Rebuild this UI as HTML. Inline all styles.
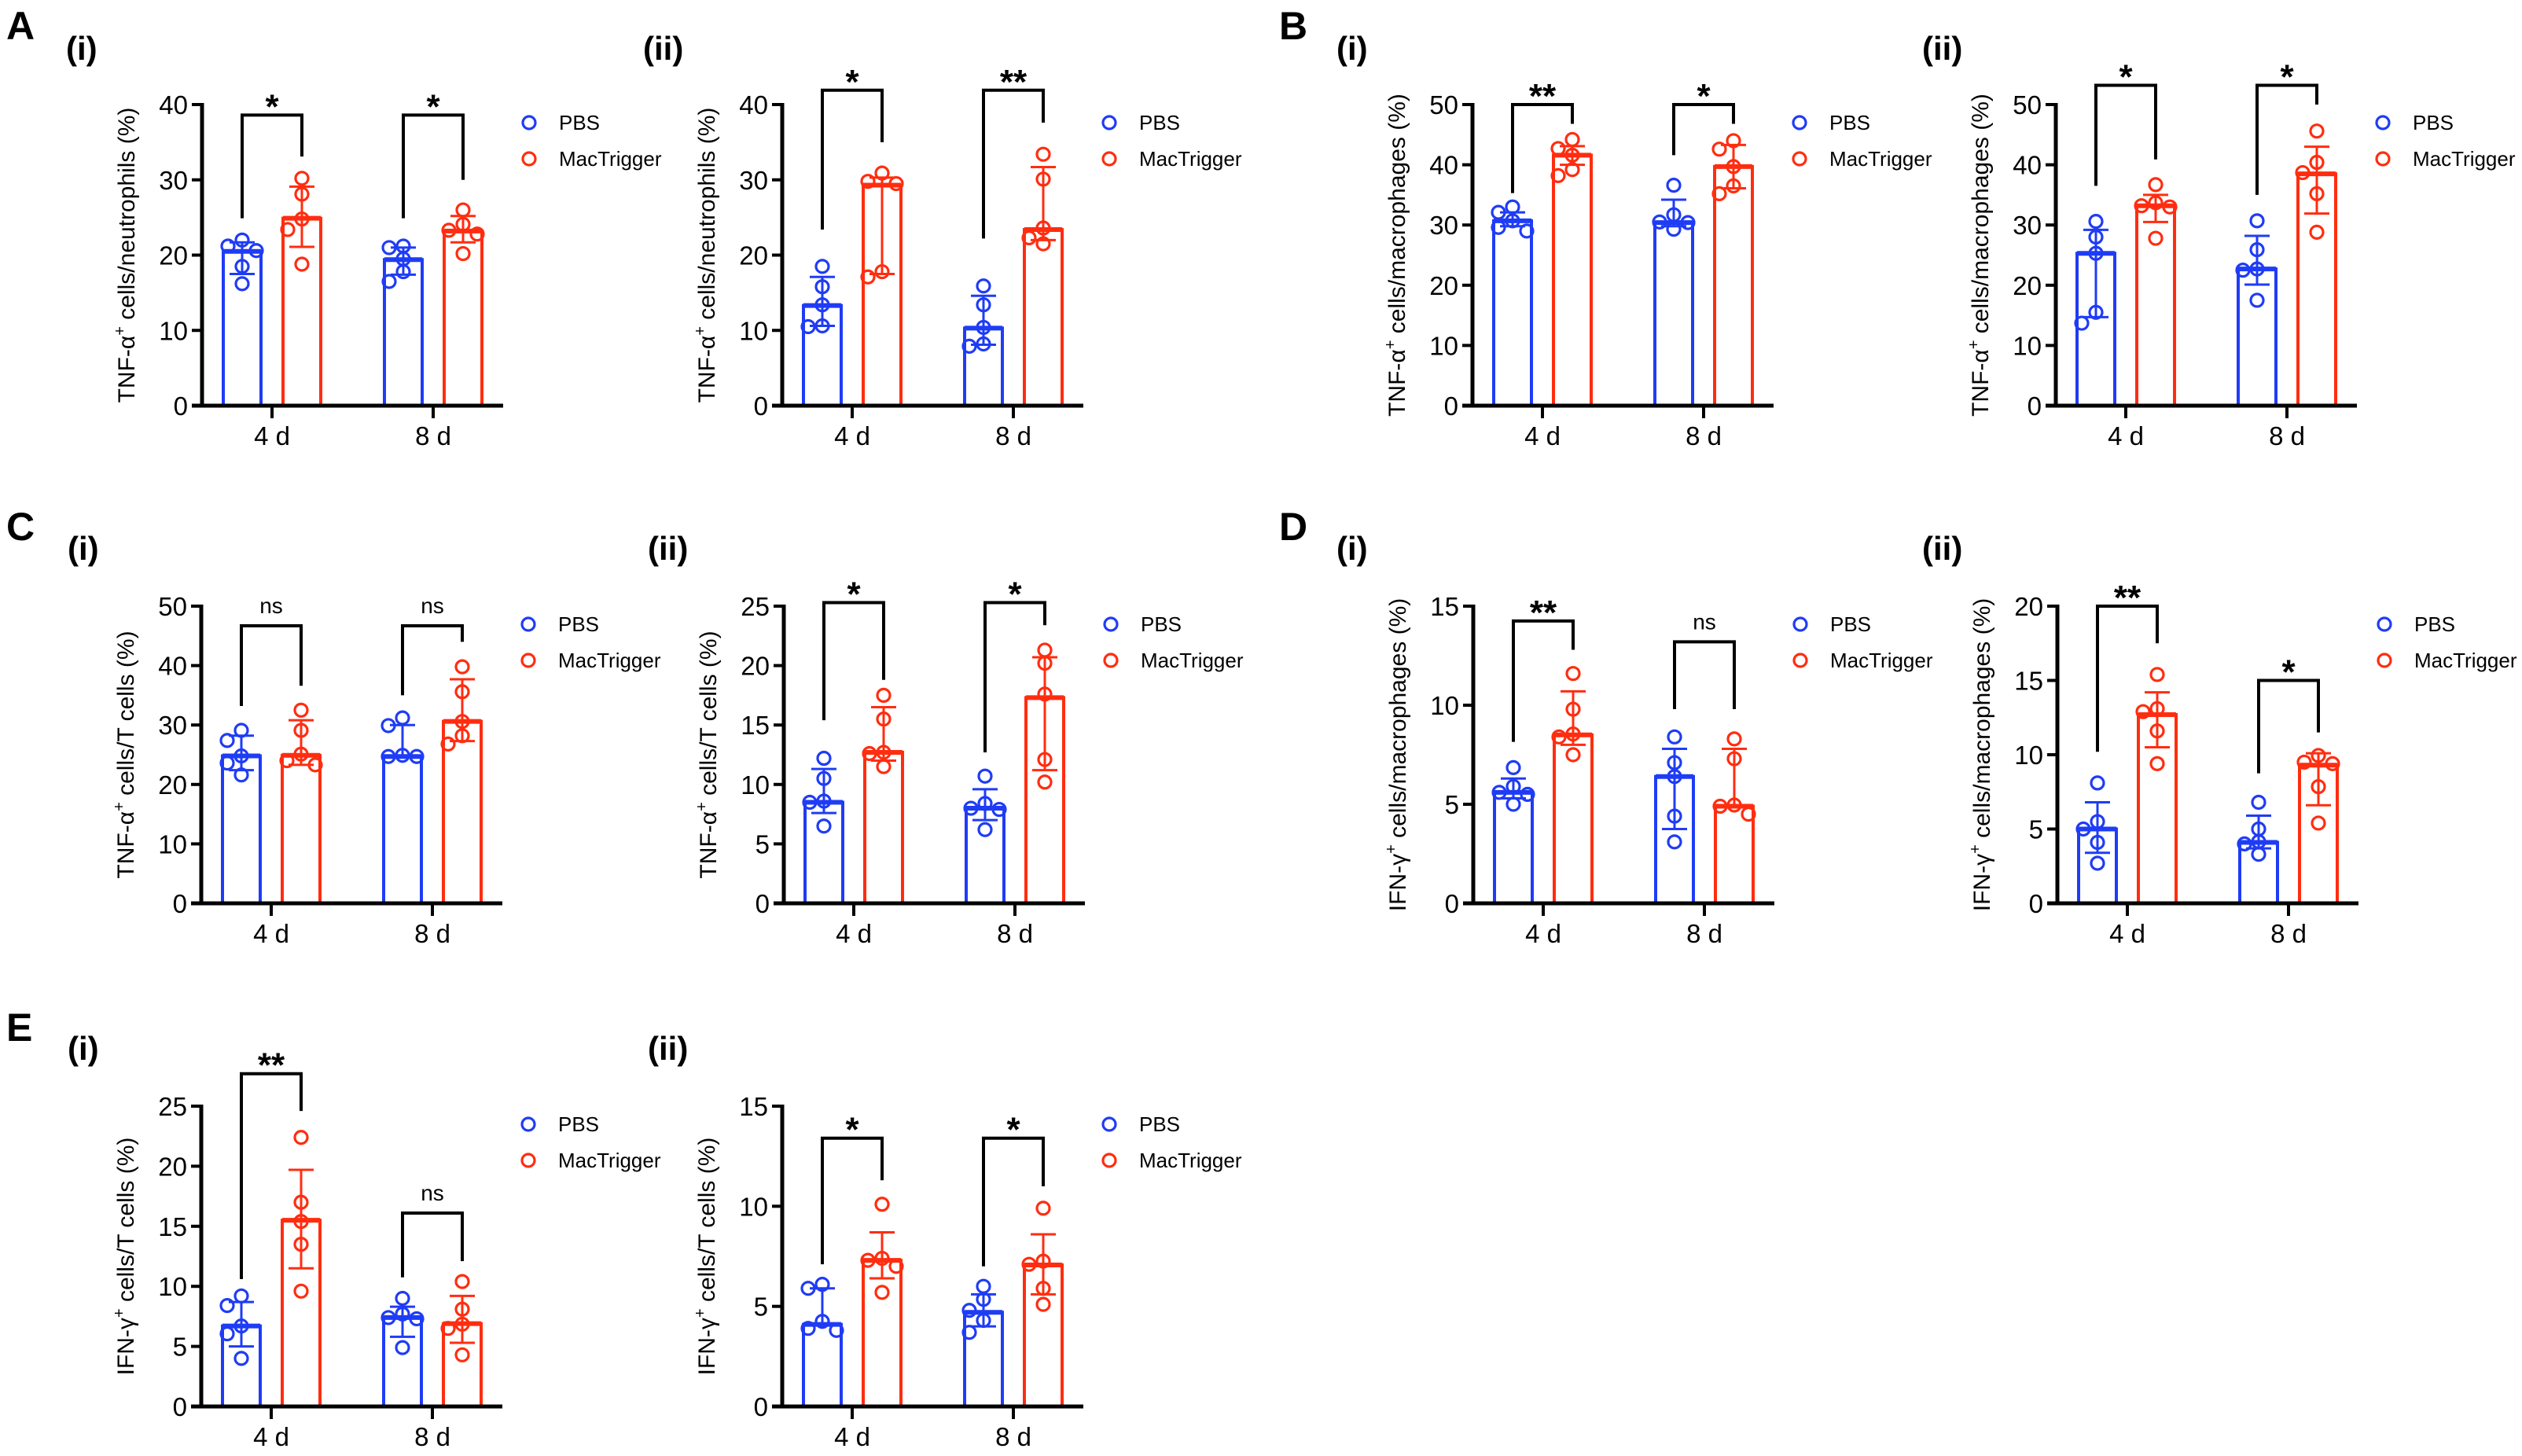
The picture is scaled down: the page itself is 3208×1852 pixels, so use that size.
<!DOCTYPE html>
<html><head><meta charset="utf-8"><style>
html,body{margin:0;padding:0;background:#fff;}
svg{display:block;font-family:"Liberation Sans",Arial,sans-serif;}
</style></head><body>
<svg id="fig" width="3208" height="1852" viewBox="0 0 3208 1852" xmlns="http://www.w3.org/2000/svg"></svg>
<script>
const days=['4 d','8 d'];
const seriesNames=['PBS','MacTrigger'];
// A(i)
const A1_pbsMean=[20.5,19.4], A1_pbsLo=[17.5,17.4], A1_pbsHi=[21.7,21.0];
const A1_pbsPts=[[22.0,21.2,20.6,18.5,16.2],[21.2,21.0,19.5,17.8,16.5]];
const A1_macMean=[24.9,23.2], A1_macLo=[21.1,21.7], A1_macHi=[29.1,25.2];
const A1_macPts=[[30.2,28.1,24.8,23.4,18.8],[26.0,24.1,23.3,22.8,20.2]];
const A1_sig=['*','*'], A1_sigTop=[38.6,38.6], A1_sigL=[24.9,24.9], A1_sigR=[33.1,30.0];
// A(ii)
const A2_pbsMean=[13.3,10.3], A2_pbsLo=[10.6,8.1], A2_pbsHi=[17.1,14.6];
const A2_pbsPts=[[18.5,15.8,13.4,10.6,10.5],[15.9,13.4,10.4,8.2,7.9]];
const A2_macMean=[29.3,23.4], A2_macLo=[17.5,22.0], A2_macHi=[30.3,31.7];
const A2_macPts=[[30.9,29.8,29.5,17.8,17.1],[33.4,30.1,23.6,22.3,21.5]];
const A2_sig=['*','**'], A2_sigTop=[41.9,41.9], A2_sigL=[23.4,22.2], A2_sigR=[35,37.6];
// B(i)
const B1_pbsMean=[30.7,30.4], B1_pbsLo=[29.8,29.8], B1_pbsHi=[32.1,34.2];
const B1_pbsPts=[[33,32.1,30.7,29.6,29],[36.6,31.7,30.5,30.4,29.3]];
const B1_macMean=[41.6,39.7], B1_macLo=[40,36.1], B1_macHi=[43.1,43.3];
const B1_macPts=[[44.2,42.7,41.6,39.2,38.2],[44,42.6,39.7,36.5,35.2]];
const B1_sig=['**','*'], B1_sigTop=[50,50], B1_sigL=[35.3,41.6], B1_sigR=[46.8,46.8];
// B(ii)
const B2_pbsMean=[25.3,22.7], B2_pbsLo=[14.7,20.1], B2_pbsHi=[29.2,28.2];
const B2_pbsPts=[[30.6,28,25.3,15.5,13.7],[30.7,25.9,22.7,22.5,17.5]];
const B2_macMean=[33.2,38.5], B2_macLo=[30.5,31.9], B2_macHi=[35,43];
const B2_macPts=[[36.7,33.7,33.2,33,27.8],[45.6,40.4,38.7,35.2,28.8]];
const B2_sig=['*','*'], B2_sigTop=[53.2,53.2], B2_sigL=[36.5,35], B2_sigR=[40.9,50];
// C(i)
const C1_pbsMean=[24.8,24.7], C1_pbsLo=[22.4,24.7], C1_pbsHi=[28.2,30];
const C1_pbsPts=[[29.1,27.4,24.8,23.6,21.6],[31.2,29.9,24.9,24.7,24.7]];
const C1_macMean=[24.9,30.6], C1_macLo=[23.3,27.3], C1_macHi=[30.8,37.7];
const C1_macPts=[[32.5,29.1,25.1,24,23.3],[39.8,35.6,30.6,28.2,26.8]];
const C1_sig=['ns','ns'], C1_sigTop=[46.7,46.7], C1_sigL=[33.2,35], C1_sigR=[36.6,44];
// C(ii)
const C2_pbsMean=[8.5,8], C2_pbsLo=[7.6,7], C2_pbsHi=[11.3,9.6];
const C2_pbsPts=[[12.2,10.5,8.6,8.5,6.5],[10.7,8.4,8,7.9,6.2]];
const C2_macMean=[12.7,17.3], C2_macLo=[12,11.2], C2_macHi=[16.5,20.7];
const C2_macPts=[[17.5,15.5,12.7,12.6,11.5],[21.3,20.2,17.6,12.1,10.2]];
const C2_sig=['*','*'], C2_sigTop=[25.3,25.3], C2_sigL=[15.4,12.7], C2_sigR=[18.8,23.4];
// D(i)
const D1_pbsMean=[5.6,6.4], D1_pbsLo=[5.3,3.75], D1_pbsHi=[6.3,7.8];
const D1_pbsPts=[[6.85,5.9,5.6,5.5,5.0],[8.4,7.1,6.4,4.4,3.1]];
const D1_macMean=[8.5,4.9], D1_macLo=[8.0,4.9], D1_macHi=[10.7,7.8];
const D1_macPts=[[11.6,9.8,8.55,8.4,7.5],[8.3,7.3,4.96,4.9,4.5]];
const D1_sig=['**','ns'], D1_sigTop=[14.25,13.2], D1_sigL=[8.15,9.8], D1_sigR=[12.8,9.8];
// D(ii)
const D2_pbsMean=[5.0,4.1], D2_pbsLo=[3.4,3.7], D2_pbsHi=[6.8,5.9];
const D2_pbsPts=[[8.1,5.5,5.0,4.1,2.7],[6.8,5.0,4.15,4.0,3.3]];
const D2_macMean=[12.7,9.3], D2_macLo=[10.5,6.6], D2_macHi=[14.2,10.1];
const D2_macPts=[[15.4,13.1,12.9,11.6,9.4],[9.95,9.5,9.4,7.85,5.4]];
const D2_sig=['**','*'], D2_sigTop=[20,15], D2_sigL=[10.2,8.75], D2_sigR=[17.5,11.5];
// E(i)
const E1_pbsMean=[6.7,7.4], E1_pbsLo=[5.0,5.8], E1_pbsHi=[8.7,8.3];
const E1_pbsPts=[[9.2,8.4,6.7,6.05,4.0],[9.0,7.7,7.4,7.3,4.9]];
const E1_macMean=[15.5,6.9], E1_macLo=[11.5,5.3], E1_macHi=[19.7,9.2];
const E1_macPts=[[22.4,17.0,15.4,13.5,9.6],[10.4,8.1,6.85,6.5,4.3]];
const E1_sig=['**','ns'], E1_sigTop=[27.7,16.1], E1_sigL=[10.6,10.75], E1_sigR=[24.6,12.1];
// E(ii)
const E2_pbsMean=[4.1,4.7], E2_pbsLo=[4.1,4.0], E2_pbsHi=[5.9,5.6];
const E2_pbsPts=[[6.1,5.9,4.25,3.9,3.8],[6.0,5.35,4.8,4.3,3.7]];
const E2_macMean=[7.3,7.07], E2_macLo=[6.4,5.6], E2_macHi=[8.7,8.6];
const E2_macPts=[[10.1,7.4,7.3,7.0,5.7],[9.9,7.26,7.1,5.9,5.1]];
const E2_sig=['*','*'], E2_sigTop=[13.4,13.4], E2_sigL=[7.1,7.0], E2_sigR=[11.3,11.0];
// y-axis ranges
const A1_yTicks=[0,10,20,30,40], A2_yTicks=[0,10,20,30,40];
const B1_yTicks=[0,10,20,30,40,50], B2_yTicks=[0,10,20,30,40,50];
const C1_yTicks=[0,10,20,30,40,50], C2_yTicks=[0,5,10,15,20,25];
const D1_yTicks=[0,5,10,15], D2_yTicks=[0,5,10,15,20];
const E1_yTicks=[0,5,10,15,20,25], E2_yTicks=[0,5,10,15];

const BLUE='#1f3cf5', RED='#ff2d10';
const NS='http://www.w3.org/2000/svg';
const svg=document.getElementById('fig');
function mk(tag,attrs,parent){const e=document.createElementNS(NS,tag);for(const k in attrs)e.setAttribute(k,attrs[k]);(parent||svg).appendChild(e);return e;}

const rows=[{top:133,zero:516},{top:771,zero:1149},{top:1407,zero:1789}];
const panels=[
 {id:'a-i',row:0,x0:257,lbl:'cells/neutrophils (%)',pre:'TNF-α',yt:A1_yTicks,pm:A1_pbsMean,pl:A1_pbsLo,ph:A1_pbsHi,pp:A1_pbsPts,mm:A1_macMean,ml:A1_macLo,mh:A1_macHi,mp:A1_macPts,sg:A1_sig,st:A1_sigTop,sl:A1_sigL,sr:A1_sigR},
 {id:'a-ii',row:0,x0:995,lbl:'cells/neutrophils (%)',pre:'TNF-α',yt:A2_yTicks,pm:A2_pbsMean,pl:A2_pbsLo,ph:A2_pbsHi,pp:A2_pbsPts,mm:A2_macMean,ml:A2_macLo,mh:A2_macHi,mp:A2_macPts,sg:A2_sig,st:A2_sigTop,sl:A2_sigL,sr:A2_sigR},
 {id:'b-i',row:0,x0:1873,lbl:'cells/macrophages (%)',pre:'TNF-α',yt:B1_yTicks,pm:B1_pbsMean,pl:B1_pbsLo,ph:B1_pbsHi,pp:B1_pbsPts,mm:B1_macMean,ml:B1_macLo,mh:B1_macHi,mp:B1_macPts,sg:B1_sig,st:B1_sigTop,sl:B1_sigL,sr:B1_sigR},
 {id:'b-ii',row:0,x0:2615,lbl:'cells/macrophages (%)',pre:'TNF-α',yt:B2_yTicks,pm:B2_pbsMean,pl:B2_pbsLo,ph:B2_pbsHi,pp:B2_pbsPts,mm:B2_macMean,ml:B2_macLo,mh:B2_macHi,mp:B2_macPts,sg:B2_sig,st:B2_sigTop,sl:B2_sigL,sr:B2_sigR},
 {id:'c-i',row:1,x0:256,lbl:'cells/T cells (%)',pre:'TNF-α',yt:C1_yTicks,pm:C1_pbsMean,pl:C1_pbsLo,ph:C1_pbsHi,pp:C1_pbsPts,mm:C1_macMean,ml:C1_macLo,mh:C1_macHi,mp:C1_macPts,sg:C1_sig,st:C1_sigTop,sl:C1_sigL,sr:C1_sigR},
 {id:'c-ii',row:1,x0:997,lbl:'cells/T cells (%)',pre:'TNF-α',yt:C2_yTicks,pm:C2_pbsMean,pl:C2_pbsLo,ph:C2_pbsHi,pp:C2_pbsPts,mm:C2_macMean,ml:C2_macLo,mh:C2_macHi,mp:C2_macPts,sg:C2_sig,st:C2_sigTop,sl:C2_sigL,sr:C2_sigR},
 {id:'d-i',row:1,x0:1874,lbl:'cells/macrophages (%)',pre:'IFN-γ',yt:D1_yTicks,pm:D1_pbsMean,pl:D1_pbsLo,ph:D1_pbsHi,pp:D1_pbsPts,mm:D1_macMean,ml:D1_macLo,mh:D1_macHi,mp:D1_macPts,sg:D1_sig,st:D1_sigTop,sl:D1_sigL,sr:D1_sigR},
 {id:'d-ii',row:1,x0:2617,lbl:'cells/macrophages (%)',pre:'IFN-γ',yt:D2_yTicks,pm:D2_pbsMean,pl:D2_pbsLo,ph:D2_pbsHi,pp:D2_pbsPts,mm:D2_macMean,ml:D2_macLo,mh:D2_macHi,mp:D2_macPts,sg:D2_sig,st:D2_sigTop,sl:D2_sigL,sr:D2_sigR},
 {id:'e-i',row:2,x0:256,lbl:'cells/T cells (%)',pre:'IFN-γ',yt:E1_yTicks,pm:E1_pbsMean,pl:E1_pbsLo,ph:E1_pbsHi,pp:E1_pbsPts,mm:E1_macMean,ml:E1_macLo,mh:E1_macHi,mp:E1_macPts,sg:E1_sig,st:E1_sigTop,sl:E1_sigL,sr:E1_sigR},
 {id:'e-ii',row:2,x0:995,lbl:'cells/T cells (%)',pre:'IFN-γ',yt:E2_yTicks,pm:E2_pbsMean,pl:E2_pbsLo,ph:E2_pbsHi,pp:E2_pbsPts,mm:E2_macMean,ml:E2_macLo,mh:E2_macHi,mp:E2_macPts,sg:E2_sig,st:E2_sigTop,sl:E2_sigL,sr:E2_sigR}
];

const letters=[['A',8,0],['B',1627,0],['C',8,1],['D',1627,1],['E',8,2]];
letters.forEach(l=>{
  const t=mk('text',{x:l[1],y:50+l[2]*637,'font-size':50,'font-weight':'bold',fill:'#000'});
  t.textContent=l[0];
  
  
});
const subs=[['(i)',84,0],['(ii)',818,0],['(i)',1700,0],['(ii)',2445,0],['(i)',86,1],['(ii)',824,1],['(i)',1700,1],['(ii)',2445,1],['(i)',86,2],['(ii)',824,2]];
subs.forEach((s,i)=>{
  const t=mk('text',{x:s[1],y:76+s[2]*636,'font-size':42,'font-weight':'bold',fill:'#000'});
  t.textContent=s[0];
  
  
});

panels.forEach(p=>{
  const r=rows[p.row], x0=p.x0, zero=r.zero, top=r.top;
  const ymax=p.yt[p.yt.length-1];
  const Y=v=>zero-(v/ymax)*(zero-top);
  const groupX=[x0+89,x0+294];
  const offs=[-38,38];
  const g=mk('g',{});
  
  
  const series=[
    {name:'pbs',col:BLUE,m:p.pm,lo:p.pl,hi:p.ph,pts:p.pp},
    {name:'mactrigger',col:RED,m:p.mm,lo:p.ml,hi:p.mh,pts:p.mp}
  ];
  series.forEach((s,si)=>{
    days.forEach((d,di)=>{
      const cx=groupX[di]+offs[si];
      const bar=mk('path',{d:`M${cx-24},${zero} V${Y(s.m[di])} H${cx+24} V${zero}`,fill:'none',stroke:s.col,'stroke-width':4},g);
      
      
      const ml=mk('line',{x1:cx-24,x2:cx+24,y1:Y(s.m[di]),y2:Y(s.m[di]),stroke:s.col,'stroke-width':6},g);
      
      
      const eb=mk('path',{d:`M${cx},${Y(s.lo[di])} V${Y(s.hi[di])} M${cx-16},${Y(s.lo[di])} H${cx+16} M${cx-16},${Y(s.hi[di])} H${cx+16}`,fill:'none',stroke:s.col,'stroke-width':3},g);
      
      
      const placed=[];
      s.pts[di].forEach(v=>{
        const py=Y(v);
        let ox=0;
        for(const cand of [0,-18,18,-36,36]){
          if(!placed.some(q=>Math.abs(q.x-cand)<16&&Math.abs(q.y-py)<16)){ox=cand;break;}
        }
        placed.push({x:ox,y:py});
        const c=mk('circle',{cx:cx+ox,cy:py,r:8,fill:'none',stroke:s.col,'stroke-width':3.2},g);
        
        
      });
    });
  });
  const ya=mk('line',{x1:x0,x2:x0,y1:top-2,y2:zero,stroke:'#000','stroke-width':5},g);
  
  
  const xa=mk('line',{x1:x0-13,x2:x0+383,y1:zero,y2:zero,stroke:'#000','stroke-width':5},g);
  
  
  p.yt.forEach(v=>{
    const tk=mk('line',{x1:x0-13,x2:x0,y1:Y(v),y2:Y(v),stroke:'#000','stroke-width':4},g);
    
    
    const tl=mk('text',{x:x0-18,y:Y(v)+12,'font-size':33,'text-anchor':'end',fill:'#000'},g);
    tl.textContent=v;
    
    
  });
  days.forEach((d,di)=>{
    const tk=mk('line',{x1:groupX[di],x2:groupX[di],y1:zero,y2:zero+16,stroke:'#000','stroke-width':4},g);
    
    
    const tl=mk('text',{x:groupX[di],y:zero+50,'font-size':33,'text-anchor':'middle',fill:'#000'},g);
    tl.textContent=d;
    
    
  });
  const my=(top+zero)/2;
  const yl=mk('text',{x:0,y:0,'font-size':30,'text-anchor':'middle',fill:'#000',transform:`translate(${x0-86},${my}) rotate(-90)`},g);
  
  
  const t1=mk('tspan',{},yl); t1.textContent=p.pre;
  const t2=mk('tspan',{dy:-12,'font-size':20},yl); t2.textContent='+';
  const t3=mk('tspan',{dy:12},yl); t3.textContent=' '+p.lbl;
  days.forEach((d,di)=>{
    const xl=groupX[di]+offs[0], xr=groupX[di]+offs[1];
    const yt=Y(p.st[di]);
    const br=mk('path',{d:`M${xl},${Y(p.sl[di])} V${yt} H${xr} V${Y(p.sr[di])}`,fill:'none',stroke:'#000','stroke-width':4},g);
    
    
    const isNs=p.sg[di]==='ns';
    const st=mk('text',{x:groupX[di],y:isNs?yt-16:yt+4,'font-size':isNs?28:44,'font-weight':isNs?'normal':'bold','text-anchor':'middle',fill:'#000'},g);
    st.textContent=p.sg[di];
    
    
  });
  [BLUE,RED].forEach((col,i)=>{
    const ly=top+23+i*46;
    const lg=mk('g',{},g);
    
    
    mk('circle',{cx:x0+416,cy:ly,r:8,fill:'none',stroke:col,'stroke-width':3.2},lg);
    const lt=mk('text',{x:x0+454,y:ly+9,'font-size':26,fill:'#000'},lg);
    lt.textContent=seriesNames[i];
  });
});
</script>
</body></html>
